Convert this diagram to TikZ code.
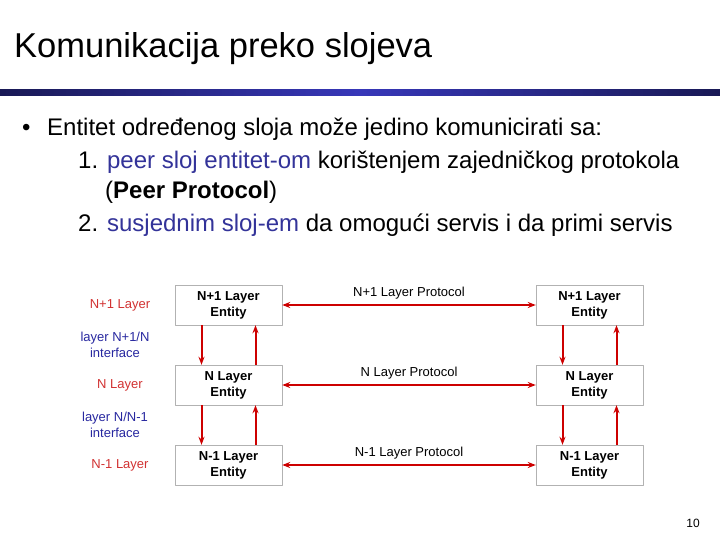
\documentclass[tikz,border=0pt]{standalone}
\usepackage{fontspec}
\setmainfont{Liberation Sans}
\usetikzlibrary{arrows.meta}
\definecolor{peerblue}{RGB}{51,51,153}
\definecolor{ifaceblue}{RGB}{40,40,160}
\definecolor{labelred}{RGB}{210,50,50}
\definecolor{arrowred}{RGB}{205,0,0}
\definecolor{barnavy}{RGB}{25,25,85}
\definecolor{barblue}{RGB}{55,55,185}
\begin{document}
\begin{tikzpicture}[x=1pt,y=-1pt,>={Stealth[length=8pt,width=6pt]},line join=round,
	entity/.style={draw=gray!60,minimum width=107pt,minimum height=40pt,inner sep=0pt,align=center,font=\fontsize{13}{16}\selectfont\bfseries},
	layerlbl/.style={labelred,align=center,font=\fontsize{13}{16}\selectfont},
	ifacelbl/.style={ifaceblue,align=center,font=\fontsize{13}{16}\selectfont},
	bodytext/.style={anchor=base west,inner sep=0pt,font=\fontsize{24}{29}\selectfont},
	service/.style={->,arrowred,line width=2pt},
	peer/.style={<->,arrowred,line width=1.6pt}]
	\useasboundingbox (0,0) rectangle (720,540);
	\fill[white] (0,0) rectangle (720,540);
	% title and bar
	\node[anchor=base west,inner sep=0pt,font=\fontsize{34.5}{40}\selectfont] (title) at (14,58) {Komunikacija preko slojeva};
	\shade[left color=barnavy,right color=barnavy,middle color=barblue] (0,90) rectangle (720,96);
	% text
	\node[bodytext] (bul) at (22,136) {•};
	\node[bodytext] (l1) at (47,136) {Entitet određenog sloja može jedino komunicirati sa:};
	\node[bodytext] (l2) at (78,169) {1. \textcolor{peerblue}{peer sloj entitet-om} korištenjem zajedničkog protokola};
	\node[bodytext] (l3) at (105,199) {(\textbf{Peer Protocol})};
	\node[bodytext] (l4) at (78,232) {2. \textcolor{peerblue}{susjednim sloj-em} da omogući servis i da primi servis};
	% entities
	\node[entity] (la) at (228.5,305) {N+1 Layer\\Entity};
	\node[entity] (lb) at (228.5,385) {N Layer\\Entity};
	\node[entity] (lc) at (228.5,465) {N-1 Layer\\Entity};
	\node[entity] (ra) at (589.5,305) {N+1 Layer\\Entity};
	\node[entity] (rb) at (589.5,385) {N Layer\\Entity};
	\node[entity] (rc) at (589.5,465) {N-1 Layer\\Entity};
	% left labels
	\node[layerlbl] (na) at (120,305) {N+1 Layer};
	\node[ifacelbl] (ia) at (115,345) {layer N+1/N\\interface};
	\node[layerlbl] (nb) at (120,385) {N Layer};
	\node[ifacelbl] (ib) at (115,425) {layer N/N-1\\interface};
	\node[layerlbl] (nc) at (120,465) {N-1 Layer};
	% services
	\foreach \u/\d in {la/lb,lb/lc,ra/rb,rb/rc}{
		\draw[service] ([xshift=-27pt]\u.south) -- ([xshift=-27pt]\d.north);
		\draw[service] ([xshift=27pt]\d.north) -- ([xshift=27pt]\u.south);
	}
	% peer protocols
	\foreach \l/\r/\t in {la/ra/N+1 Layer Protocol,lb/rb/N Layer Protocol,lc/rc/N-1 Layer Protocol}
		\draw[peer] (\l) -- (\r) node[midway,above=1.5pt,black,font=\fontsize{13}{15}\selectfont] {\t};
	\node[anchor=base,inner sep=0pt,font=\fontsize{12}{14}\selectfont] (pg) at (693,527) {10};
\end{tikzpicture}
\end{document}
